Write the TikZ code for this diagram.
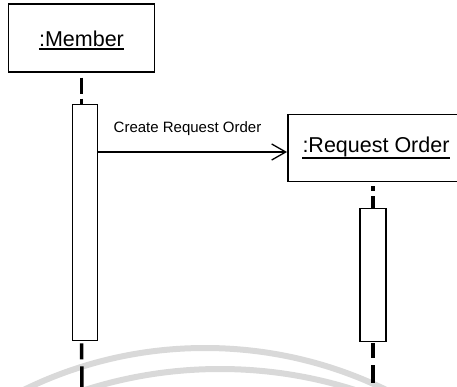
\documentclass[tikz,border=0pt]{standalone}
\usepackage{fontspec}
\setmainfont{Liberation Sans}
\usetikzlibrary{arrows.meta}
\begin{document}
\begin{tikzpicture}[x=1pt,y=-1pt,
  objbox/.style={draw, line width=1.5pt, rectangle, inner sep=0pt},
  actbox/.style={draw, line width=1.4pt, fill=white, rectangle, inner sep=0pt, minimum width=25pt},
  objlabel/.style={inner sep=0pt, anchor=base, font=\fontsize{21.5}{24}\selectfont},
  msglabel/.style={inner sep=0pt, anchor=base, font=\fontsize{15}{18}\selectfont},
  underln/.style={line width=1.3pt},
  lifeline/.style={line width=3.5pt, line cap=butt},
  msg/.style={line width=1.3pt, -{Straight Barb[length=14pt,width=16pt,line width=1.3pt]}},
  watermark/.style={line width=6pt, draw=black!15}]
\useasboundingbox (0,0) rectangle (457,387);

% faint watermark arcs behind the diagram
\begin{scope}
  \clip (0,0) rectangle (457,387);
  \draw[watermark] (205,760) circle[radius=412pt];
  \draw[watermark] (220,812) circle[radius=443pt];
\end{scope}

% object boxes
\node[objbox, minimum width=146pt, minimum height=68pt] (member) at (81.5,38) {};
\node[objlabel] (memberlbl) at (81.5,46.5) {:Member};
\draw[underln] ([yshift=-2.5pt]memberlbl.base west) -- ([yshift=-2.5pt]memberlbl.base east);

\node[objbox, minimum width=200pt, minimum height=67pt, anchor=north west] (rq) at (287,114) {};
\node[objlabel] (rqlbl) at (376,153) {:Request Order};
\draw[underln] ([yshift=-5pt]rqlbl.base west) -- ([yshift=-5pt]rqlbl.base east);

% activation bars
\node[actbox, minimum height=236pt, anchor=north] (act1) at (85,104) {};
\node[actbox, minimum width=26pt, minimum height=133pt, anchor=north] (act2) at (373,208) {};

% lifelines
\coordinate (memberend) at (82,390);
\coordinate (rqend) at (373,383);
\draw[lifeline, dash pattern=on 0pt off 5pt on 16pt off 5pt on 20pt]
  (member.south) -- (member.south |- act1.north);
\draw[lifeline, dash pattern=on 0pt off 2pt on 16pt off 7pt on 40pt]
  (member.south |- act1.south) -- (memberend);
\draw[lifeline, dash pattern=on 0pt off 4pt on 5pt off 5pt on 30pt]
  (act2.north |- rq.south) -- (act2.north);
\draw[lifeline, dash pattern=on 0pt off 1pt on 15pt off 7pt on 40pt]
  (act2.south) -- (rqend);

% message
\coordinate (msgy) at (0,152);
\draw[msg] (act1.east |- msgy) -- (rq.west |- msgy);
\node[msglabel] (msglbl) at (187.5,133) {Create Request Order};
\end{tikzpicture}
\end{document}
